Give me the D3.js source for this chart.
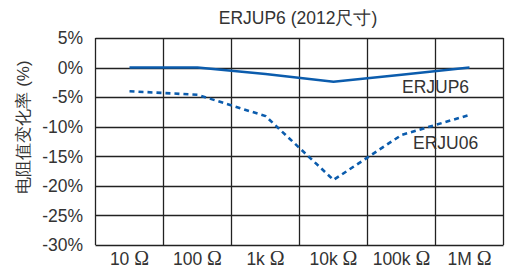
<!DOCTYPE html>
<html><head><meta charset="utf-8">
<script src="https://cdn.jsdelivr.net/npm/d3@7"></script>
<style>body{margin:0;background:#fff;} text{font-family:"Liberation Sans",Arial,sans-serif;fill:#333;}</style>
</head><body>
<svg id="c" width="506" height="268"></svg>
<script>
const categories = ["10 Ω","100 Ω","1k Ω","10k Ω","100k Ω","1M Ω"];
const erjup6 = [0, 0, -1.1, -2.4, -1.2, 0];
const erju06 = [-4, -4.6, -8.2, -19, -11.4, -8];
const yTicks = [5,0,-5,-10,-15,-20,-25,-30];

const svg = d3.select("#c");
const L = 95.5, R = 503.5, T = 38, B = 245;
const x = d3.scaleBand().domain(categories).range([L, R]);
const y = d3.scaleLinear().domain([-30, 5]).range([B, T]);
const g = svg.append("g");

// grid
g.selectAll(".hg").data(yTicks).join("line")
  .attr("x1", L).attr("x2", R).attr("y1", d => Math.round(y(d))+0.5).attr("y2", d => Math.round(y(d))+0.5)
  .attr("stroke", "#222").attr("stroke-width", 1.3);
const vx = categories.map(c => x(c)).concat([R]);
g.selectAll(".vg").data(vx).join("line")
  .attr("x1", d => d).attr("x2", d => d).attr("y1", T).attr("y2", B)
  .attr("stroke", "#222").attr("stroke-width", 1.3);

// y labels
g.selectAll(".yl").data(yTicks).join("text")
  .attr("x", 83).attr("y", d => y(d)).attr("dy", "0.36em")
  .attr("text-anchor", "end").attr("font-size", 17.5).text(d => d + "%");
// x labels (Ω in serif like the reference)
const xl = g.selectAll(".xl").data(categories).join("text")
  .attr("x", d => x(d) + x.bandwidth()/2).attr("y", 265)
  .attr("text-anchor", "middle").attr("font-size", 17.5);
xl.append("tspan").text(d => d.split(" ")[0] + " ");
xl.append("tspan").attr("font-family", "'Liberation Serif','DejaVu Serif',serif").attr("font-size", 20).text(d => d.split(" ")[1]);

const line = d3.line().x((d,i) => x(categories[i]) + x.bandwidth()/2).y(d => y(d));
svg.append("path").attr("d", line(erjup6)).attr("fill","none").attr("stroke","#0b5cad").attr("stroke-width",2.6);
svg.append("path").attr("d", line(erju06)).attr("fill","none").attr("stroke","#0b5cad").attr("stroke-width",2.6).attr("stroke-dasharray","5,4");

svg.append("text").attr("x", 402).attr("y", 93).attr("font-size", 17.5).text("ERJUP6");
svg.append("text").attr("x", 413).attr("y", 149).attr("font-size", 17.5).text("ERJU06");

svg.append("text").attr("x", 298).attr("y", 24).attr("text-anchor","middle").attr("font-size", 17.5).text("ERJUP6 (2012尺寸)");
svg.append("text").attr("transform","translate(29,127) rotate(-90)").attr("text-anchor","middle").attr("font-size", 17).text("电阻值变化率 (%)");
</script>
</body></html>
